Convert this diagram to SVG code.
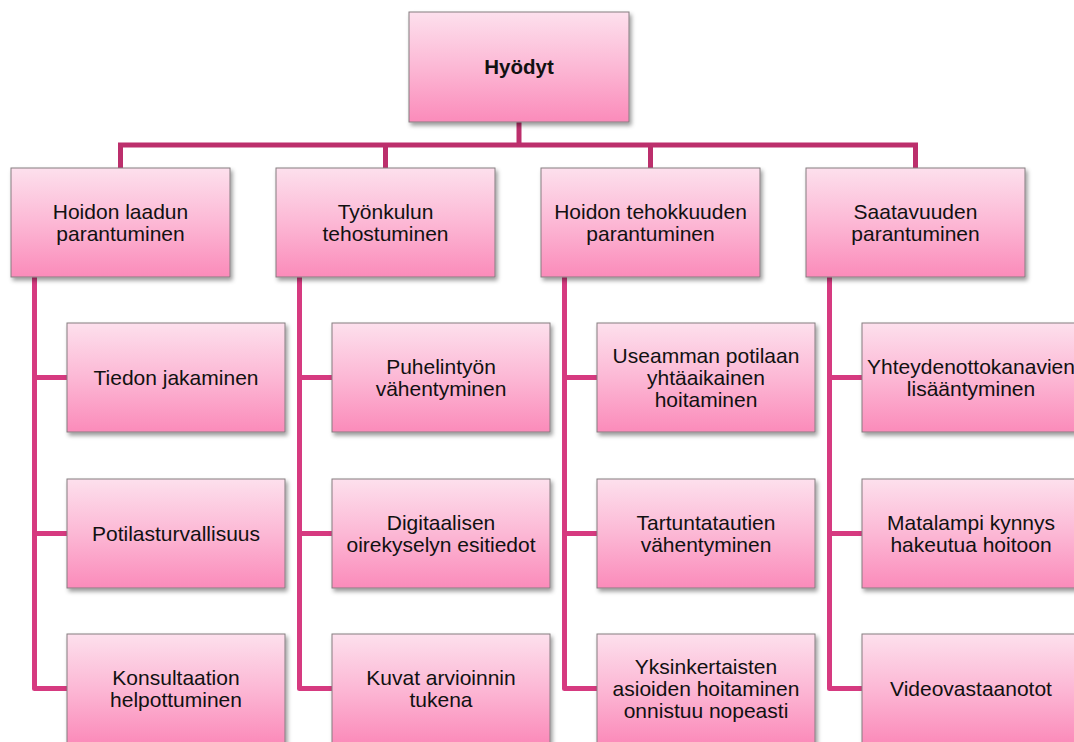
<svg xmlns="http://www.w3.org/2000/svg" width="1074" height="742" viewBox="0 0 1074 742">
<defs>
<linearGradient id="pink" x1="0" y1="0" x2="0" y2="1">
<stop offset="0" stop-color="#fde0ed"/>
<stop offset="0.5" stop-color="#fcb8d5"/>
<stop offset="1" stop-color="#fb8bba"/>
</linearGradient>
<filter id="sh" x="-10%" y="-10%" width="125%" height="130%">
<feDropShadow dx="2" dy="3" stdDeviation="2" flood-color="#000" flood-opacity="0.4"/>
</filter>
<style>
.box{fill:url(#pink);stroke:#857d80;stroke-width:1;filter:url(#sh)}
.t{font-family:"Liberation Sans",Arial,sans-serif;font-size:21px;fill:#111;text-anchor:middle}
.b{font-weight:bold;font-size:20.5px}
.c1{fill:none;stroke:#bc2f6c;stroke-width:5;stroke-linejoin:miter}
.c2{fill:none;stroke:#d63a80;stroke-width:5;stroke-linejoin:round}
</style>
</defs>
<rect width="1074" height="742" fill="#fff"/>
<g id="connectors">
<path class="c1" d="M519 122 V145"/>
<path class="c1" d="M120.5 168 V145 H915.5 V168"/>
<path class="c1" d="M385.5 145 V168"/>
<path class="c1" d="M650.5 145 V168"/>
<path class="c2" d="M34.5 277 V688.5 H67 M34.5 377.5 H67 M34.5 533.5 H67"/>
<path class="c2" d="M299.5 277 V688.5 H332 M299.5 377.5 H332 M299.5 533.5 H332"/>
<path class="c2" d="M564.5 277 V688.5 H597 M564.5 377.5 H597 M564.5 533.5 H597"/>
<path class="c2" d="M829.5 277 V688.5 H862 M829.5 377.5 H862 M829.5 533.5 H862"/>
</g>
<g id="root"><rect class="box" x="409" y="12" width="220" height="110"/><text class="t b" x="519" y="74">Hyödyt</text></g>
<g id="n1"><rect class="box" x="11" y="168" width="219" height="109"/><text class="t" x="120.5" y="218.5">Hoidon laadun</text><text class="t" x="120.5" y="240.5">parantuminen</text></g>
<g id="n2"><rect class="box" x="276" y="168" width="219" height="109"/><text class="t" x="385.5" y="218.5">Työnkulun</text><text class="t" x="385.5" y="240.5">tehostuminen</text></g>
<g id="n3"><rect class="box" x="541" y="168" width="219" height="109"/><text class="t" x="650.5" y="218.5">Hoidon tehokkuuden</text><text class="t" x="650.5" y="240.5">parantuminen</text></g>
<g id="n4"><rect class="box" x="806" y="168" width="219" height="109"/><text class="t" x="915.5" y="218.5">Saatavuuden</text><text class="t" x="915.5" y="240.5">parantuminen</text></g>
<g id="l11"><rect class="box" x="67" y="323" width="218" height="109"/><text class="t" x="176" y="384.5">Tiedon jakaminen</text></g>
<g id="l12"><rect class="box" x="67" y="479" width="218" height="109"/><text class="t" x="176" y="540.5">Potilasturvallisuus</text></g>
<g id="l13"><rect class="box" x="67" y="634" width="218" height="109"/><text class="t" x="176" y="684.5">Konsultaation</text><text class="t" x="176" y="706.5">helpottuminen</text></g>
<g id="l21"><rect class="box" x="332" y="323" width="218" height="109"/><text class="t" x="441" y="373.5">Puhelintyön</text><text class="t" x="441" y="395.5">vähentyminen</text></g>
<g id="l22"><rect class="box" x="332" y="479" width="218" height="109"/><text class="t" x="441" y="529.5">Digitaalisen</text><text class="t" x="441" y="551.5">oirekyselyn esitiedot</text></g>
<g id="l23"><rect class="box" x="332" y="634" width="218" height="109"/><text class="t" x="441" y="684.5">Kuvat arvioinnin</text><text class="t" x="441" y="706.5">tukena</text></g>
<g id="l31"><rect class="box" x="597" y="323" width="218" height="109"/><text class="t" x="706" y="362.5">Useamman potilaan</text><text class="t" x="706" y="384.5">yhtäaikainen</text><text class="t" x="706" y="406.5">hoitaminen</text></g>
<g id="l32"><rect class="box" x="597" y="479" width="218" height="109"/><text class="t" x="706" y="529.5">Tartuntatautien</text><text class="t" x="706" y="551.5">vähentyminen</text></g>
<g id="l33"><rect class="box" x="597" y="634" width="218" height="109"/><text class="t" x="706" y="673.5">Yksinkertaisten</text><text class="t" x="706" y="695.5">asioiden hoitaminen</text><text class="t" x="706" y="717.5">onnistuu nopeasti</text></g>
<g id="l41"><rect class="box" x="862" y="323" width="218" height="109"/><text class="t" x="971" y="373.5">Yhteydenottokanavien</text><text class="t" x="971" y="395.5">lisääntyminen</text></g>
<g id="l42"><rect class="box" x="862" y="479" width="218" height="109"/><text class="t" x="971" y="529.5">Matalampi kynnys</text><text class="t" x="971" y="551.5">hakeutua hoitoon</text></g>
<g id="l43"><rect class="box" x="862" y="634" width="218" height="109"/><text class="t" x="971" y="695.5">Videovastaanotot</text></g>
</svg>
